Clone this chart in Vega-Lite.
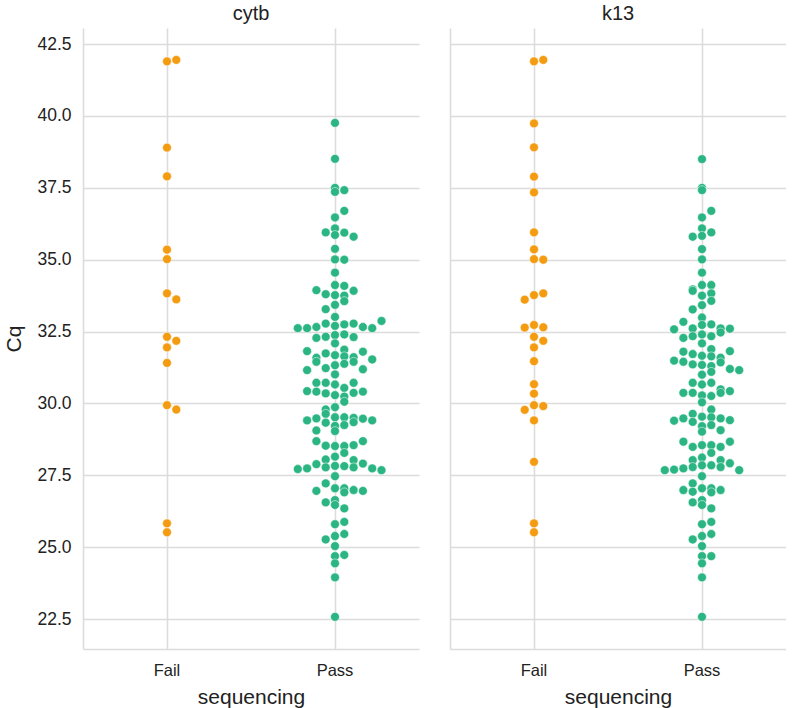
{
  "$schema": "https://vega.github.io/schema/vega-lite/v6.json",
  "padding": {"left": 3, "top": 4, "right": 0, "bottom": 0},
  "background": "white",
  "config": {
    "font": "Liberation Sans",
    "view": {"stroke": null},
    "concat": {"spacing": 31},
    "axis": {
      "grid": true,
      "gridColor": "#dcdcdc",
      "gridWidth": 1.6,
      "domain": true,
      "domainColor": "#dcdcdc",
      "domainWidth": 1.6,
      "ticks": false,
      "labelColor": "#222222",
      "titleColor": "#222222",
      "titleFontWeight": "normal"
    },
    "title": {"fontWeight": "normal", "fontSize": 20, "color": "#222222"}
  },
  "data": {
    "values": [
      {"gene": "cytb", "sequencing": "Fail", "Cq": 41.95},
      {"gene": "cytb", "sequencing": "Fail", "Cq": 41.9},
      {"gene": "cytb", "sequencing": "Fail", "Cq": 38.9},
      {"gene": "cytb", "sequencing": "Fail", "Cq": 37.9},
      {"gene": "cytb", "sequencing": "Fail", "Cq": 35.35},
      {"gene": "cytb", "sequencing": "Fail", "Cq": 35.02},
      {"gene": "cytb", "sequencing": "Fail", "Cq": 33.83},
      {"gene": "cytb", "sequencing": "Fail", "Cq": 33.62},
      {"gene": "cytb", "sequencing": "Fail", "Cq": 32.32},
      {"gene": "cytb", "sequencing": "Fail", "Cq": 32.18},
      {"gene": "cytb", "sequencing": "Fail", "Cq": 31.95},
      {"gene": "cytb", "sequencing": "Fail", "Cq": 31.41},
      {"gene": "cytb", "sequencing": "Fail", "Cq": 29.94},
      {"gene": "cytb", "sequencing": "Fail", "Cq": 29.79},
      {"gene": "cytb", "sequencing": "Fail", "Cq": 25.83},
      {"gene": "cytb", "sequencing": "Fail", "Cq": 25.52},
      {"gene": "k13", "sequencing": "Fail", "Cq": 41.95},
      {"gene": "k13", "sequencing": "Fail", "Cq": 41.9},
      {"gene": "k13", "sequencing": "Fail", "Cq": 39.74},
      {"gene": "k13", "sequencing": "Fail", "Cq": 38.91},
      {"gene": "k13", "sequencing": "Fail", "Cq": 37.89},
      {"gene": "k13", "sequencing": "Fail", "Cq": 37.34},
      {"gene": "k13", "sequencing": "Fail", "Cq": 35.95},
      {"gene": "k13", "sequencing": "Fail", "Cq": 35.36},
      {"gene": "k13", "sequencing": "Fail", "Cq": 35.02},
      {"gene": "k13", "sequencing": "Fail", "Cq": 35.0},
      {"gene": "k13", "sequencing": "Fail", "Cq": 33.83},
      {"gene": "k13", "sequencing": "Fail", "Cq": 33.77},
      {"gene": "k13", "sequencing": "Fail", "Cq": 33.61},
      {"gene": "k13", "sequencing": "Fail", "Cq": 32.73},
      {"gene": "k13", "sequencing": "Fail", "Cq": 32.65},
      {"gene": "k13", "sequencing": "Fail", "Cq": 32.64},
      {"gene": "k13", "sequencing": "Fail", "Cq": 32.32},
      {"gene": "k13", "sequencing": "Fail", "Cq": 32.18},
      {"gene": "k13", "sequencing": "Fail", "Cq": 31.95},
      {"gene": "k13", "sequencing": "Fail", "Cq": 31.47},
      {"gene": "k13", "sequencing": "Fail", "Cq": 30.67},
      {"gene": "k13", "sequencing": "Fail", "Cq": 30.34},
      {"gene": "k13", "sequencing": "Fail", "Cq": 29.94},
      {"gene": "k13", "sequencing": "Fail", "Cq": 29.91},
      {"gene": "k13", "sequencing": "Fail", "Cq": 29.78},
      {"gene": "k13", "sequencing": "Fail", "Cq": 29.41},
      {"gene": "k13", "sequencing": "Fail", "Cq": 27.97},
      {"gene": "k13", "sequencing": "Fail", "Cq": 25.83},
      {"gene": "k13", "sequencing": "Fail", "Cq": 25.52},
      {"gene": "cytb", "sequencing": "Pass", "Cq": 39.76},
      {"gene": "cytb", "sequencing": "Pass", "Cq": 38.51},
      {"gene": "cytb", "sequencing": "Pass", "Cq": 37.5},
      {"gene": "cytb", "sequencing": "Pass", "Cq": 37.42},
      {"gene": "cytb", "sequencing": "Pass", "Cq": 37.36},
      {"gene": "cytb", "sequencing": "Pass", "Cq": 36.7},
      {"gene": "cytb", "sequencing": "Pass", "Cq": 36.47},
      {"gene": "cytb", "sequencing": "Pass", "Cq": 36.09},
      {"gene": "cytb", "sequencing": "Pass", "Cq": 35.95},
      {"gene": "cytb", "sequencing": "Pass", "Cq": 35.94},
      {"gene": "cytb", "sequencing": "Pass", "Cq": 35.86},
      {"gene": "cytb", "sequencing": "Pass", "Cq": 35.8},
      {"gene": "cytb", "sequencing": "Pass", "Cq": 35.38},
      {"gene": "cytb", "sequencing": "Pass", "Cq": 35.01},
      {"gene": "cytb", "sequencing": "Pass", "Cq": 35.0},
      {"gene": "cytb", "sequencing": "Pass", "Cq": 34.55},
      {"gene": "cytb", "sequencing": "Pass", "Cq": 34.12},
      {"gene": "cytb", "sequencing": "Pass", "Cq": 34.09},
      {"gene": "cytb", "sequencing": "Pass", "Cq": 33.94},
      {"gene": "cytb", "sequencing": "Pass", "Cq": 33.92},
      {"gene": "cytb", "sequencing": "Pass", "Cq": 33.8},
      {"gene": "cytb", "sequencing": "Pass", "Cq": 33.77},
      {"gene": "cytb", "sequencing": "Pass", "Cq": 33.75},
      {"gene": "cytb", "sequencing": "Pass", "Cq": 33.56},
      {"gene": "cytb", "sequencing": "Pass", "Cq": 33.43},
      {"gene": "cytb", "sequencing": "Pass", "Cq": 33.28},
      {"gene": "cytb", "sequencing": "Pass", "Cq": 33.01},
      {"gene": "cytb", "sequencing": "Pass", "Cq": 32.87},
      {"gene": "cytb", "sequencing": "Pass", "Cq": 32.78},
      {"gene": "cytb", "sequencing": "Pass", "Cq": 32.78},
      {"gene": "cytb", "sequencing": "Pass", "Cq": 32.75},
      {"gene": "cytb", "sequencing": "Pass", "Cq": 32.7},
      {"gene": "cytb", "sequencing": "Pass", "Cq": 32.66},
      {"gene": "cytb", "sequencing": "Pass", "Cq": 32.66},
      {"gene": "cytb", "sequencing": "Pass", "Cq": 32.62},
      {"gene": "cytb", "sequencing": "Pass", "Cq": 32.62},
      {"gene": "cytb", "sequencing": "Pass", "Cq": 32.62},
      {"gene": "cytb", "sequencing": "Pass", "Cq": 32.4},
      {"gene": "cytb", "sequencing": "Pass", "Cq": 32.38},
      {"gene": "cytb", "sequencing": "Pass", "Cq": 32.32},
      {"gene": "cytb", "sequencing": "Pass", "Cq": 32.31},
      {"gene": "cytb", "sequencing": "Pass", "Cq": 32.28},
      {"gene": "cytb", "sequencing": "Pass", "Cq": 32.09},
      {"gene": "cytb", "sequencing": "Pass", "Cq": 31.87},
      {"gene": "cytb", "sequencing": "Pass", "Cq": 31.82},
      {"gene": "cytb", "sequencing": "Pass", "Cq": 31.8},
      {"gene": "cytb", "sequencing": "Pass", "Cq": 31.74},
      {"gene": "cytb", "sequencing": "Pass", "Cq": 31.68},
      {"gene": "cytb", "sequencing": "Pass", "Cq": 31.64},
      {"gene": "cytb", "sequencing": "Pass", "Cq": 31.61},
      {"gene": "cytb", "sequencing": "Pass", "Cq": 31.59},
      {"gene": "cytb", "sequencing": "Pass", "Cq": 31.53},
      {"gene": "cytb", "sequencing": "Pass", "Cq": 31.45},
      {"gene": "cytb", "sequencing": "Pass", "Cq": 31.45},
      {"gene": "cytb", "sequencing": "Pass", "Cq": 31.38},
      {"gene": "cytb", "sequencing": "Pass", "Cq": 31.33},
      {"gene": "cytb", "sequencing": "Pass", "Cq": 31.23},
      {"gene": "cytb", "sequencing": "Pass", "Cq": 31.19},
      {"gene": "cytb", "sequencing": "Pass", "Cq": 31.16},
      {"gene": "cytb", "sequencing": "Pass", "Cq": 31.01},
      {"gene": "cytb", "sequencing": "Pass", "Cq": 30.72},
      {"gene": "cytb", "sequencing": "Pass", "Cq": 30.72},
      {"gene": "cytb", "sequencing": "Pass", "Cq": 30.72},
      {"gene": "cytb", "sequencing": "Pass", "Cq": 30.66},
      {"gene": "cytb", "sequencing": "Pass", "Cq": 30.54},
      {"gene": "cytb", "sequencing": "Pass", "Cq": 30.43},
      {"gene": "cytb", "sequencing": "Pass", "Cq": 30.41},
      {"gene": "cytb", "sequencing": "Pass", "Cq": 30.41},
      {"gene": "cytb", "sequencing": "Pass", "Cq": 30.37},
      {"gene": "cytb", "sequencing": "Pass", "Cq": 30.35},
      {"gene": "cytb", "sequencing": "Pass", "Cq": 30.29},
      {"gene": "cytb", "sequencing": "Pass", "Cq": 30.24},
      {"gene": "cytb", "sequencing": "Pass", "Cq": 30.06},
      {"gene": "cytb", "sequencing": "Pass", "Cq": 29.87},
      {"gene": "cytb", "sequencing": "Pass", "Cq": 29.79},
      {"gene": "cytb", "sequencing": "Pass", "Cq": 29.64},
      {"gene": "cytb", "sequencing": "Pass", "Cq": 29.52},
      {"gene": "cytb", "sequencing": "Pass", "Cq": 29.52},
      {"gene": "cytb", "sequencing": "Pass", "Cq": 29.5},
      {"gene": "cytb", "sequencing": "Pass", "Cq": 29.48},
      {"gene": "cytb", "sequencing": "Pass", "Cq": 29.47},
      {"gene": "cytb", "sequencing": "Pass", "Cq": 29.41},
      {"gene": "cytb", "sequencing": "Pass", "Cq": 29.41},
      {"gene": "cytb", "sequencing": "Pass", "Cq": 29.35},
      {"gene": "cytb", "sequencing": "Pass", "Cq": 29.33},
      {"gene": "cytb", "sequencing": "Pass", "Cq": 29.25},
      {"gene": "cytb", "sequencing": "Pass", "Cq": 29.22},
      {"gene": "cytb", "sequencing": "Pass", "Cq": 29.06},
      {"gene": "cytb", "sequencing": "Pass", "Cq": 29.04},
      {"gene": "cytb", "sequencing": "Pass", "Cq": 28.69},
      {"gene": "cytb", "sequencing": "Pass", "Cq": 28.69},
      {"gene": "cytb", "sequencing": "Pass", "Cq": 28.55},
      {"gene": "cytb", "sequencing": "Pass", "Cq": 28.53},
      {"gene": "cytb", "sequencing": "Pass", "Cq": 28.52},
      {"gene": "cytb", "sequencing": "Pass", "Cq": 28.52},
      {"gene": "cytb", "sequencing": "Pass", "Cq": 28.28},
      {"gene": "cytb", "sequencing": "Pass", "Cq": 28.15},
      {"gene": "cytb", "sequencing": "Pass", "Cq": 28.05},
      {"gene": "cytb", "sequencing": "Pass", "Cq": 28.03},
      {"gene": "cytb", "sequencing": "Pass", "Cq": 27.91},
      {"gene": "cytb", "sequencing": "Pass", "Cq": 27.89},
      {"gene": "cytb", "sequencing": "Pass", "Cq": 27.83},
      {"gene": "cytb", "sequencing": "Pass", "Cq": 27.82},
      {"gene": "cytb", "sequencing": "Pass", "Cq": 27.78},
      {"gene": "cytb", "sequencing": "Pass", "Cq": 27.78},
      {"gene": "cytb", "sequencing": "Pass", "Cq": 27.74},
      {"gene": "cytb", "sequencing": "Pass", "Cq": 27.74},
      {"gene": "cytb", "sequencing": "Pass", "Cq": 27.72},
      {"gene": "cytb", "sequencing": "Pass", "Cq": 27.68},
      {"gene": "cytb", "sequencing": "Pass", "Cq": 27.47},
      {"gene": "cytb", "sequencing": "Pass", "Cq": 27.22},
      {"gene": "cytb", "sequencing": "Pass", "Cq": 27.05},
      {"gene": "cytb", "sequencing": "Pass", "Cq": 27.05},
      {"gene": "cytb", "sequencing": "Pass", "Cq": 26.99},
      {"gene": "cytb", "sequencing": "Pass", "Cq": 26.96},
      {"gene": "cytb", "sequencing": "Pass", "Cq": 26.96},
      {"gene": "cytb", "sequencing": "Pass", "Cq": 26.91},
      {"gene": "cytb", "sequencing": "Pass", "Cq": 26.64},
      {"gene": "cytb", "sequencing": "Pass", "Cq": 26.56},
      {"gene": "cytb", "sequencing": "Pass", "Cq": 26.47},
      {"gene": "cytb", "sequencing": "Pass", "Cq": 26.35},
      {"gene": "cytb", "sequencing": "Pass", "Cq": 25.88},
      {"gene": "cytb", "sequencing": "Pass", "Cq": 25.8},
      {"gene": "cytb", "sequencing": "Pass", "Cq": 25.46},
      {"gene": "cytb", "sequencing": "Pass", "Cq": 25.39},
      {"gene": "cytb", "sequencing": "Pass", "Cq": 25.27},
      {"gene": "cytb", "sequencing": "Pass", "Cq": 25.04},
      {"gene": "cytb", "sequencing": "Pass", "Cq": 24.73},
      {"gene": "cytb", "sequencing": "Pass", "Cq": 24.69},
      {"gene": "cytb", "sequencing": "Pass", "Cq": 24.44},
      {"gene": "cytb", "sequencing": "Pass", "Cq": 23.95},
      {"gene": "cytb", "sequencing": "Pass", "Cq": 22.58},
      {"gene": "k13", "sequencing": "Pass", "Cq": 38.5},
      {"gene": "k13", "sequencing": "Pass", "Cq": 37.5},
      {"gene": "k13", "sequencing": "Pass", "Cq": 37.42},
      {"gene": "k13", "sequencing": "Pass", "Cq": 36.7},
      {"gene": "k13", "sequencing": "Pass", "Cq": 36.47},
      {"gene": "k13", "sequencing": "Pass", "Cq": 36.09},
      {"gene": "k13", "sequencing": "Pass", "Cq": 35.95},
      {"gene": "k13", "sequencing": "Pass", "Cq": 35.83},
      {"gene": "k13", "sequencing": "Pass", "Cq": 35.8},
      {"gene": "k13", "sequencing": "Pass", "Cq": 35.37},
      {"gene": "k13", "sequencing": "Pass", "Cq": 35.01},
      {"gene": "k13", "sequencing": "Pass", "Cq": 34.55},
      {"gene": "k13", "sequencing": "Pass", "Cq": 34.12},
      {"gene": "k13", "sequencing": "Pass", "Cq": 34.12},
      {"gene": "k13", "sequencing": "Pass", "Cq": 33.97},
      {"gene": "k13", "sequencing": "Pass", "Cq": 33.92},
      {"gene": "k13", "sequencing": "Pass", "Cq": 33.83},
      {"gene": "k13", "sequencing": "Pass", "Cq": 33.75},
      {"gene": "k13", "sequencing": "Pass", "Cq": 33.57},
      {"gene": "k13", "sequencing": "Pass", "Cq": 33.42},
      {"gene": "k13", "sequencing": "Pass", "Cq": 33.27},
      {"gene": "k13", "sequencing": "Pass", "Cq": 32.99},
      {"gene": "k13", "sequencing": "Pass", "Cq": 32.84},
      {"gene": "k13", "sequencing": "Pass", "Cq": 32.75},
      {"gene": "k13", "sequencing": "Pass", "Cq": 32.73},
      {"gene": "k13", "sequencing": "Pass", "Cq": 32.61},
      {"gene": "k13", "sequencing": "Pass", "Cq": 32.61},
      {"gene": "k13", "sequencing": "Pass", "Cq": 32.6},
      {"gene": "k13", "sequencing": "Pass", "Cq": 32.58},
      {"gene": "k13", "sequencing": "Pass", "Cq": 32.47},
      {"gene": "k13", "sequencing": "Pass", "Cq": 32.4},
      {"gene": "k13", "sequencing": "Pass", "Cq": 32.34},
      {"gene": "k13", "sequencing": "Pass", "Cq": 32.34},
      {"gene": "k13", "sequencing": "Pass", "Cq": 32.28},
      {"gene": "k13", "sequencing": "Pass", "Cq": 32.09},
      {"gene": "k13", "sequencing": "Pass", "Cq": 31.89},
      {"gene": "k13", "sequencing": "Pass", "Cq": 31.82},
      {"gene": "k13", "sequencing": "Pass", "Cq": 31.8},
      {"gene": "k13", "sequencing": "Pass", "Cq": 31.72},
      {"gene": "k13", "sequencing": "Pass", "Cq": 31.66},
      {"gene": "k13", "sequencing": "Pass", "Cq": 31.64},
      {"gene": "k13", "sequencing": "Pass", "Cq": 31.59},
      {"gene": "k13", "sequencing": "Pass", "Cq": 31.49},
      {"gene": "k13", "sequencing": "Pass", "Cq": 31.45},
      {"gene": "k13", "sequencing": "Pass", "Cq": 31.43},
      {"gene": "k13", "sequencing": "Pass", "Cq": 31.36},
      {"gene": "k13", "sequencing": "Pass", "Cq": 31.34},
      {"gene": "k13", "sequencing": "Pass", "Cq": 31.3},
      {"gene": "k13", "sequencing": "Pass", "Cq": 31.2},
      {"gene": "k13", "sequencing": "Pass", "Cq": 31.16},
      {"gene": "k13", "sequencing": "Pass", "Cq": 31.1},
      {"gene": "k13", "sequencing": "Pass", "Cq": 31.0},
      {"gene": "k13", "sequencing": "Pass", "Cq": 30.72},
      {"gene": "k13", "sequencing": "Pass", "Cq": 30.72},
      {"gene": "k13", "sequencing": "Pass", "Cq": 30.66},
      {"gene": "k13", "sequencing": "Pass", "Cq": 30.49},
      {"gene": "k13", "sequencing": "Pass", "Cq": 30.43},
      {"gene": "k13", "sequencing": "Pass", "Cq": 30.37},
      {"gene": "k13", "sequencing": "Pass", "Cq": 30.37},
      {"gene": "k13", "sequencing": "Pass", "Cq": 30.37},
      {"gene": "k13", "sequencing": "Pass", "Cq": 30.28},
      {"gene": "k13", "sequencing": "Pass", "Cq": 30.26},
      {"gene": "k13", "sequencing": "Pass", "Cq": 30.04},
      {"gene": "k13", "sequencing": "Pass", "Cq": 29.79},
      {"gene": "k13", "sequencing": "Pass", "Cq": 29.64},
      {"gene": "k13", "sequencing": "Pass", "Cq": 29.54},
      {"gene": "k13", "sequencing": "Pass", "Cq": 29.52},
      {"gene": "k13", "sequencing": "Pass", "Cq": 29.48},
      {"gene": "k13", "sequencing": "Pass", "Cq": 29.48},
      {"gene": "k13", "sequencing": "Pass", "Cq": 29.42},
      {"gene": "k13", "sequencing": "Pass", "Cq": 29.4},
      {"gene": "k13", "sequencing": "Pass", "Cq": 29.36},
      {"gene": "k13", "sequencing": "Pass", "Cq": 29.25},
      {"gene": "k13", "sequencing": "Pass", "Cq": 29.21},
      {"gene": "k13", "sequencing": "Pass", "Cq": 29.07},
      {"gene": "k13", "sequencing": "Pass", "Cq": 29.02},
      {"gene": "k13", "sequencing": "Pass", "Cq": 28.67},
      {"gene": "k13", "sequencing": "Pass", "Cq": 28.67},
      {"gene": "k13", "sequencing": "Pass", "Cq": 28.55},
      {"gene": "k13", "sequencing": "Pass", "Cq": 28.55},
      {"gene": "k13", "sequencing": "Pass", "Cq": 28.49},
      {"gene": "k13", "sequencing": "Pass", "Cq": 28.49},
      {"gene": "k13", "sequencing": "Pass", "Cq": 28.28},
      {"gene": "k13", "sequencing": "Pass", "Cq": 28.12},
      {"gene": "k13", "sequencing": "Pass", "Cq": 28.03},
      {"gene": "k13", "sequencing": "Pass", "Cq": 28.03},
      {"gene": "k13", "sequencing": "Pass", "Cq": 27.92},
      {"gene": "k13", "sequencing": "Pass", "Cq": 27.85},
      {"gene": "k13", "sequencing": "Pass", "Cq": 27.85},
      {"gene": "k13", "sequencing": "Pass", "Cq": 27.79},
      {"gene": "k13", "sequencing": "Pass", "Cq": 27.79},
      {"gene": "k13", "sequencing": "Pass", "Cq": 27.74},
      {"gene": "k13", "sequencing": "Pass", "Cq": 27.7},
      {"gene": "k13", "sequencing": "Pass", "Cq": 27.68},
      {"gene": "k13", "sequencing": "Pass", "Cq": 27.68},
      {"gene": "k13", "sequencing": "Pass", "Cq": 27.47},
      {"gene": "k13", "sequencing": "Pass", "Cq": 27.22},
      {"gene": "k13", "sequencing": "Pass", "Cq": 27.05},
      {"gene": "k13", "sequencing": "Pass", "Cq": 27.05},
      {"gene": "k13", "sequencing": "Pass", "Cq": 26.99},
      {"gene": "k13", "sequencing": "Pass", "Cq": 26.99},
      {"gene": "k13", "sequencing": "Pass", "Cq": 26.93},
      {"gene": "k13", "sequencing": "Pass", "Cq": 26.91},
      {"gene": "k13", "sequencing": "Pass", "Cq": 26.64},
      {"gene": "k13", "sequencing": "Pass", "Cq": 26.56},
      {"gene": "k13", "sequencing": "Pass", "Cq": 26.47},
      {"gene": "k13", "sequencing": "Pass", "Cq": 26.35},
      {"gene": "k13", "sequencing": "Pass", "Cq": 25.88},
      {"gene": "k13", "sequencing": "Pass", "Cq": 25.8},
      {"gene": "k13", "sequencing": "Pass", "Cq": 25.46},
      {"gene": "k13", "sequencing": "Pass", "Cq": 25.39},
      {"gene": "k13", "sequencing": "Pass", "Cq": 25.27},
      {"gene": "k13", "sequencing": "Pass", "Cq": 25.04},
      {"gene": "k13", "sequencing": "Pass", "Cq": 24.69},
      {"gene": "k13", "sequencing": "Pass", "Cq": 24.69},
      {"gene": "k13", "sequencing": "Pass", "Cq": 24.44},
      {"gene": "k13", "sequencing": "Pass", "Cq": 23.95},
      {"gene": "k13", "sequencing": "Pass", "Cq": 22.58}
    ]
  },
  "transform": [
    {"bin": {"step": 0.35, "anchor": 0}, "field": "Cq", "as": ["b0", "b1"]},
    {"calculate": "abs(datum.Cq - (datum.b0 + datum.b1) / 2)", "as": "dist"},
    {"window": [{"op": "row_number", "as": "rn"}], "groupby": ["gene", "sequencing", "b0"], "sort": [{"field": "dist", "order": "ascending"}]},
    {"calculate": "datum.rn == 1 ? 0 : (datum.rn % 2 == 0 ? datum.rn / 2 : -(datum.rn - 1) / 2)", "as": "off"}
  ],
  "hconcat": [
    {
      "title": {"text": "cytb", "offset": 4},
      "width": 336,
      "height": 621,
      "transform": [{"filter": "datum.gene == 'cytb'"}],
      "mark": {"type": "circle", "size": 78, "opacity": 1, "stroke": "white", "strokeWidth": 0.5},
      "encoding": {
        "x": {"field": "sequencing", "type": "nominal", "scale": {"domain": ["Fail", "Pass"], "paddingInner": 0, "paddingOuter": 0},
              "axis": {"title": "sequencing", "labelAngle": 0, "bandPosition": 0.5, "labelFontSize": 16.5, "titleFontSize": 21, "labelPadding": 13, "titlePadding": 8}},
        "xOffset": {"field": "off", "type": "quantitative", "scale": {"domain": [-9.03, 9.03]}},
        "y": {"field": "Cq", "type": "quantitative", "scale": {"domain": [21.46, 43.06], "nice": false, "zero": false},
              "axis": {"title": "Cq", "values": [22.5, 25, 27.5, 30, 32.5, 35, 37.5, 40, 42.5], "format": ".1f", "labelFontSize": 17.5, "titleFontSize": 21, "labelPadding": 12, "titlePadding": 12}},
        "color": {"field": "sequencing", "type": "nominal", "scale": {"domain": ["Fail", "Pass"], "range": ["#f39c12", "#2bb583"]}, "legend": null}
      }
    },
    {
      "title": {"text": "k13", "offset": 4},
      "width": 336,
      "height": 621,
      "transform": [{"filter": "datum.gene == 'k13'"}],
      "mark": {"type": "circle", "size": 78, "opacity": 1, "stroke": "white", "strokeWidth": 0.5},
      "encoding": {
        "x": {"field": "sequencing", "type": "nominal", "scale": {"domain": ["Fail", "Pass"], "paddingInner": 0, "paddingOuter": 0},
              "axis": {"title": "sequencing", "labelAngle": 0, "bandPosition": 0.5, "labelFontSize": 16.5, "titleFontSize": 21, "labelPadding": 13, "titlePadding": 8}},
        "xOffset": {"field": "off", "type": "quantitative", "scale": {"domain": [-9.03, 9.03]}},
        "y": {"field": "Cq", "type": "quantitative", "scale": {"domain": [21.46, 43.06], "nice": false, "zero": false},
              "axis": {"title": null, "values": [22.5, 25, 27.5, 30, 32.5, 35, 37.5, 40, 42.5], "labels": false}},
        "color": {"field": "sequencing", "type": "nominal", "scale": {"domain": ["Fail", "Pass"], "range": ["#f39c12", "#2bb583"]}, "legend": null}
      }
    }
  ],
  "resolve": {"scale": {"x": "independent", "xOffset": "independent"}}
}
